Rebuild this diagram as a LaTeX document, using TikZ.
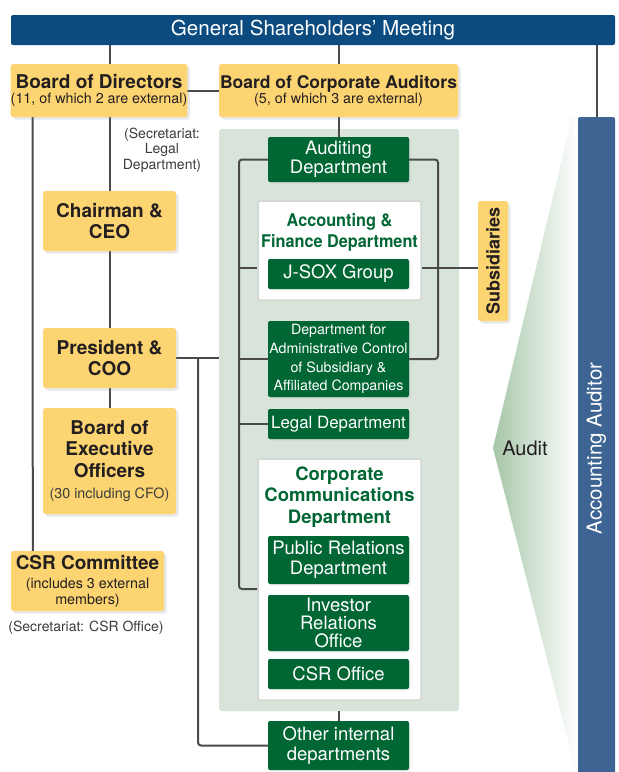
\documentclass[tikz,border=0pt]{standalone}
\usepackage{fontspec}
\setmainfont{TeX Gyre Heros}
\newfontfamily\narrowsf[FakeStretch=0.93]{TeX Gyre Heros}
\usetikzlibrary{shadows}

\definecolor{gsmblue}{HTML}{0B4B80}
\definecolor{boardyellow}{HTML}{FDD472}
\definecolor{deptgreen}{HTML}{006634}
\definecolor{panelgreen}{HTML}{D8E3DA}
\definecolor{auditorblue}{HTML}{3E6494}
\definecolor{linegray}{HTML}{4A4A4A}
\definecolor{inkdark}{HTML}{231F20}
\definecolor{subgray}{HTML}{3C3C3C}
\definecolor{auditgreen}{HTML}{A6C6A8}
\definecolor{insetgray}{HTML}{D3D6D3}

\pgfdeclarelayer{back}
\pgfdeclarelayer{lines}
\pgfsetlayers{back,lines,main}

\newcommand{\ttlfont}[1]{\bfseries\fontsize{#1}{21.5}\selectfont}
\newcommand{\subfont}{\mdseries\fontsize{14.3}{16}\selectfont\color{subgray}}

\tikzset{
  sz/.style 2 args={minimum width=#1pt, minimum height=#2pt},
  yellowbox/.style={fill=boardyellow, rounded corners=2.5pt, inner sep=0pt,
    align=center, text=inkdark,
    drop shadow={shadow xshift=2.5pt, shadow yshift=-2.5pt, opacity=0.18}},
  greenbox/.style={fill=deptgreen, rounded corners=2pt, inner sep=0pt,
    align=center, text=white, font=\fontsize{18.5}{19.5}\selectfont,
    drop shadow={shadow xshift=1.5pt, shadow yshift=-1.5pt, opacity=0.12}},
  whitebox/.style={fill=white, draw=insetgray, line width=1.5pt,
    rounded corners=2pt, inner sep=0pt},
  conn/.style={draw=linegray, line width=2pt},
  note/.style={align=center, inner sep=0pt, text=subgray,
    font=\fontsize{14}{15.5}\selectfont},
}

\begin{document}
\begin{tikzpicture}[x=1pt, y=-1pt]
\useasboundingbox (0,0) rectangle (619,772);

\begin{pgfonlayer}{back}
% audit wedge in front of the accounting auditor
\shade[left color=auditgreen, right color=white]
  (572,117) -- (493,448) -- (578,780) -- (578,117) -- cycle;
% internal organisation panel
\node[fill=panelgreen, rounded corners=3pt, sz={240}{582}, inner sep=0pt]
  (panel) at (339,420) {};
\end{pgfonlayer}

\node[font=\fontsize{20}{22}\selectfont, text=inkdark, inner sep=0pt]
  (audit) at (525,448) {Audit};

% governance bodies
\node[fill=gsmblue, rounded corners=2pt, sz={604}{30}, text=white,
  font=\fontsize{20.6}{22}\selectfont, inner sep=0pt]
  (gsm) at (313,30) {General Shareholders’ Meeting};

\node[yellowbox, sz={176}{53}, font=\subfont] (bod) at (99,90.5)
  {{\color{inkdark}\ttlfont{19}Board of Directors}\\[-1pt]
   (11, of which 2 are external)};
\node[yellowbox, sz={239}{53}, font=\subfont] (bca) at (338.5,90.5)
  {{\color{inkdark}\ttlfont{17.5}Board of Corporate Auditors}\\[-1pt]
   (5, of which 3 are external)};

\node[note] (legalsec) at (162,150)
  {(Secretariat:\\Legal\\Department)};

\node[yellowbox, sz={133}{60}, font=\ttlfont{19}] (chair) at (109.5,221)
  {Chairman \&\\CEO};
\node[yellowbox, sz={133}{60}, font=\ttlfont{19}] (pres) at (109.5,358)
  {President \&\\COO};
\node[yellowbox, sz={133}{106}, font=\ttlfont{19}] (beo) at (109.5,461)
  {Board of\\Executive\\Officers\\{\subfont (30 including CFO)}};
\node[yellowbox, sz={153}{60}, font=\subfont] (csr) at (87.5,581)
  {{\color{inkdark}\ttlfont{19}CSR Committee}\\[3pt]
   (includes 3 external\\members)};
\node[note] (csrsec) at (86,628) {(Secretariat: CSR Office)};

% accounting auditor and subsidiaries
\node[fill=auditorblue, rounded corners=2pt, rotate=90, sz={663}{37},
  text=white, font=\fontsize{20.5}{22}\selectfont, inner sep=0pt]
  (aa) at (596.5,448.5) {Accounting Auditor};
\node[yellowbox, rotate=90, sz={120}{30},
  font=\bfseries\fontsize{18}{20}\selectfont] (sub) at (493,261)
  {Subsidiaries};

% departments inside the panel
\node[greenbox, sz={141}{45}] (auditdept) at (338.5,159.5)
  {Auditing\\Department};

\node[whitebox, sz={163}{99}] (acctbox) at (339.5,250.5) {};
\node[align=center, inner sep=0pt, text=deptgreen,
  font=\narrowsf\bfseries\fontsize{17.5}{21}\selectfont]
  (accttitle) at (339.5,232) {Accounting \&\\Finance Department};
\node[greenbox, sz={141}{30}] (jsox) at (338.5,274) {J-SOX Group};

\node[greenbox, sz={141}{76}, font=\fontsize{14.2}{18.7}\selectfont]
  (admin) at (338.5,359)
  {Department for\\Administrative Control\\of Subsidiary \&\\Affiliated Companies};
\node[greenbox, sz={141}{30}, font=\fontsize{16.9}{19}\selectfont]
  (legal) at (338.5,424) {Legal Department};

\node[whitebox, sz={163}{241}] (commbox) at (339.5,579.5) {};
\node[align=center, inner sep=0pt, text=deptgreen,
  font=\bfseries\fontsize{18.5}{21.5}\selectfont]
  (commtitle) at (339.5,497) {Corporate\\Communications\\Department};
\node[greenbox, sz={141}{48}] (pr) at (338.5,560)
  {Public Relations\\Department};
\node[greenbox, sz={141}{56}, font=\fontsize{18.5}{18.3}\selectfont]
  (ir) at (338.5,623) {Investor\\Relations\\Office};
\node[greenbox, sz={141}{30}] (csroffice) at (338.5,674) {CSR Office};

\node[greenbox, sz={141}{49}] (other) at (338.5,745.5)
  {Other internal\\departments};

% connectors, kept behind the boxes
\coordinate (brL) at (239,589);
\coordinate (brR) at (438,359);
\coordinate (acctlink) at (339,268);
\coordinate (presdrop) at (198,700);

\begin{pgfonlayer}{lines}
\draw[conn] (gsm.south -| chair.north) -- (bod.north -| chair.north);
\draw[conn] (gsm.south -| bca.north) -- (bca.north);
\draw[conn] (gsm.south -| aa.east) -- (aa.east);
\draw[conn] (bod.east) -- (bca.west);
\draw[conn] (bod.south -| chair.north) -- (chair.north);
\draw[conn] (chair.south) -- (pres.north);
\draw[conn] (pres.south) -- (beo.north);
\draw[conn] ([xshift=22pt]bod.south west) -- ([xshift=22pt]csr.north west);
\draw[conn] (bca.south) -- (auditdept.north);

\draw[conn, rounded corners=3pt] (auditdept.west) -| (brL) -- (brL -| commbox.west);
\draw[conn] (acctlink -| brL) -- (acctlink -| acctbox.west);
\draw[conn] (admin.west -| brL) -- (admin.west);
\draw[conn] (legal.west -| brL) -- (legal.west);
\draw[conn, rounded corners=3pt] (auditdept.east) -| (brR) -- (admin.east);
\draw[conn] (acctlink -| acctbox.east) -- (acctlink -| sub.north);

\draw[conn] (pres.east) -- (pres.east -| panel.west);
\draw[conn, rounded corners=3pt] (pres.east -| presdrop) |- (other.west);
\draw[conn] (panel.south -| other.north) -- (other.north);
\end{pgfonlayer}
\end{tikzpicture}
\end{document}
